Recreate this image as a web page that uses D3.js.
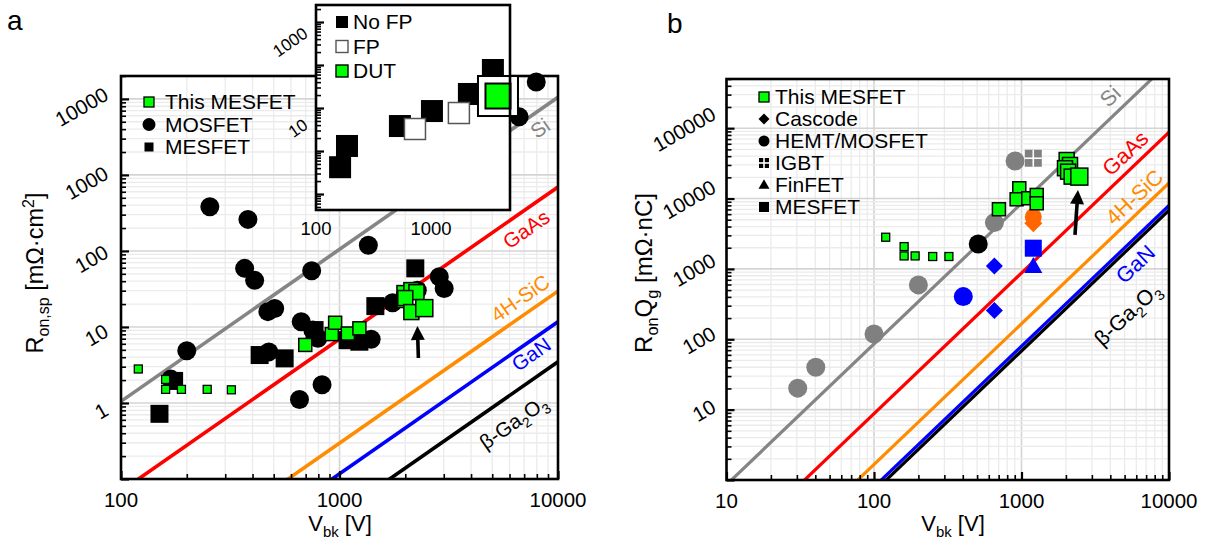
<!DOCTYPE html>
<html>
<head>
<meta charset="utf-8">
<script src="https://cdn.jsdelivr.net/npm/d3@7"></script>
<style>
  body { margin: 0; background: #fff; }
  svg { font-family: "Liberation Sans", Arial, sans-serif; }
</style>
</head>
<body>
<svg id="chart" width="1213" height="542"></svg>
<script>
// ---------- DATA: panel a (Ron,sp vs Vbk) ----------
const THIS_SMALL_A = [[120, 2.8], [160, 2.04], [160, 1.51], [189, 1.51], [248, 1.51], [320, 1.49]];
const THIS_BIG_A = [[697, 5.8], [922, 8.05], [955, 11.35], [1092, 8.2], [1233, 9.6]];
const THIS_CLUSTER_A = [[1983, 22.6], [1983, 27.9], [2133, 30.5], [2250, 28.7], [2000, 24], [2133, 15.7]];
const THIS_BEST_A = [[2444, 17.7]];
const MOSFET_A = [[255, 381], [381, 260], [368, 59], [409, 41], [746, 55], [1355, 119], [505, 17.5],
  [470, 15.9], [200, 4.86], [169, 2.06], [668, 11.7], [755, 9.1], [796, 7.1], [475, 4.7], [832, 1.74],
  [656, 1.11], [1396, 6.9], [1750, 20.8], [2270, 30.5], [2862, 45.7], [3013, 32], [7950, 16700], [6640, 5800]];
const MESFET_A = [[150, 0.72], [175, 1.95], [431, 4.27], [561, 3.86], [769, 9.1], [1089, 6.7], [1233, 6.4],
  [1459, 18.8], [2223, 59]];
const ARROW_A = [[2296, 3.9], [2273, 10.3]];

// inset of panel a
const INSET_NOFP = [[162, 0.42], [186, 1.31], [537, 3.81], [1020, 8.5], [2138, 21.2], [3458, 76.5]];
const INSET_FP = [[726, 3.25], [1750, 7.65]];
const INSET_DUT = [[3828, 19]];

// ---------- DATA: panel b (RonQg vs Vbk) ----------
const THIS_SMALL_B = [[120, 2820], [160, 2075], [160, 1530], [190, 1530], [250, 1500], [322, 1500]];
const THIS_BIG_B = [[703, 7050], [966, 14000], [927, 9770], [1112, 10100], [1268, 11250], [1268, 8570]];
const THIS_CLUSTER_B = [[2024, 35300], [2133, 30000], [1972, 27000], [2070, 24100], [2188, 20500]];
const THIS_BEST_B = [[2466, 20500]];
const SI_CIRCLE_B = [[30.4, 20.2], [40.3, 40], [100, 119], [200, 593], [655, 4550], [904, 34200]];
const SI_IGBT_B = [[1202, 37400]];
const BLACK_CIRCLE_B = [[509, 2265]];
const GAN_CIRCLE_B = [[403, 404]];
const GAN_CASCODE_B = [[655, 1104], [655, 256]];
const GAN_MESFET_B = [[1202, 1970]];
const GAN_FINFET_B = [[1202, 1080]];
const SIC_CIRCLE_B = [[1202, 5530]];
const SIC_CASCODE_B = [[1202, 4460]];
const ARROW_B = [[2306, 3040], [2415, 13250]];

// ---------- material limit lines ----------
const MATERIALS = ["Si", "GaAs", "4H-SiC", "GaN", "β-Ga2O3"];
const MAT_COLORS = ["#858585", "#ff0000", "#ff8c00", "#0000ff", "#000000"];
const LIMIT_K_A = [1.05e-4, 6.93e-6, 2.96e-7, 1.17e-7, 3.48e-8];   // Ron,sp = k * V^2
const LIMIT_V0_B = [10.8, 33.8, 77.6, 112, 121];                   // RonQg = (V / V0)^2
const LABEL_AT_A = [[8280, 4140], [7145, 194], [6700, 24], [7530, 4.4], [6240, 0.56]];
const LABEL_AT_B = [[3980, 287000], [5035, 44500], [5800, 10540], [5890, 1178], [5190, 230]];

// ---------- tick labels ----------
const X_TICKS_A = [100, 1000, 10000];
const Y_TICKS_A = [1, 10, 100, 1000, 10000];
const X_TICKS_I = [100, 1000];
const Y_TICKS_I = [10, 1000];
const X_TICKS_B = [10, 100, 1000, 10000];
const Y_TICKS_B = [10, 100, 1000, 10000, 100000];

const LEGEND_A = ["This MESFET", "MOSFET", "MESFET"];
const LEGEND_B = ["This MESFET", "Cascode", "HEMT/MOSFET", "IGBT", "FinFET", "MESFET"];
const LEGEND_I = ["No FP", "FP", "DUT"];

const GREEN = "#00ff00";
const svg = d3.select("#chart");

// SCALES
const xA = d3.scaleLog().domain([100, 10000]).range([121, 558]);
const yA = d3.scaleLog().domain([0.1, 20000]).range([479, 76]);
const xI = d3.scaleLog().domain([100, 4870]).range([316, 510]);
const yI = d3.scaleLog().domain([0.0425, 2485]).range([210, 5]);
const xB = d3.scaleLog().domain([10, 10000]).range([726.5, 1169]);
const yB = d3.scaleLog().domain([1, 500000]).range([480, 79]);

// every k*10^n inside the domain
function decadeValues(domain) {
  const out = [];
  const lo = Math.floor(Math.log10(domain[0])), hi = Math.ceil(Math.log10(domain[1]));
  for (let e = lo; e <= hi; e++) {
    for (let k = 1; k <= 9; k++) {
      const v = k * Math.pow(10, e);
      if (v >= domain[0] * 0.999 && v <= domain[1] * 1.001) out.push(v);
    }
  }
  return out;
}
function isMajor(v) { const l = Math.log10(v); return Math.abs(l - Math.round(l)) < 1e-6; }

function drawGrid(g, x, y) {
  const [x0, x1] = x.range(), [y0, y1] = y.range();
  g.selectAll(null).data(decadeValues(x.domain())).enter().append("line")
    .attr("x1", d => x(d)).attr("x2", d => x(d)).attr("y1", y0).attr("y2", y1)
    .attr("stroke", d => isMajor(d) ? "#d4d4d4" : "#ebebeb")
    .attr("stroke-width", d => isMajor(d) ? 1.6 : 1.3);
  g.selectAll(null).data(decadeValues(y.domain())).enter().append("line")
    .attr("y1", d => y(d)).attr("y2", d => y(d)).attr("x1", x0).attr("x2", x1)
    .attr("stroke", d => isMajor(d) ? "#d4d4d4" : "#ebebeb")
    .attr("stroke-width", d => isMajor(d) ? 1.6 : 1.3);
}

function drawTicks(g, x, y, bottom) {
  const left = g.append("g").attr("transform", `translate(${x.range()[0]},0)`)
    .call(d3.axisLeft(y).tickValues(decadeValues(y.domain())).tickSize(-5).tickFormat(""));
  left.select(".domain").remove();
  left.selectAll(".tick line").attr("x2", d => isMajor(d) ? 8 : 5)
    .attr("stroke-width", d => isMajor(d) ? 2.2 : 1.6);
  if (!bottom) return;
  const bot = g.append("g").attr("transform", `translate(0,${y.range()[0]})`)
    .call(d3.axisBottom(x).tickValues(decadeValues(x.domain())).tickSize(-5).tickFormat(""));
  bot.select(".domain").remove();
  bot.selectAll(".tick line").attr("y2", d => isMajor(d) ? -8 : -5)
    .attr("stroke-width", d => isMajor(d) ? 2.2 : 1.6);
}

function drawFrame(g, x, y, fill) {
  const [x0, x1] = x.range(), [y0, y1] = y.range();
  g.append("rect").attr("x", x0).attr("y", y1).attr("width", x1 - x0).attr("height", y0 - y1)
    .attr("fill", fill || "none").attr("stroke", "#000").attr("stroke-width", 2.6);
}

// rotated y labels, right edge of their box kept at a fixed gap from the axis
function yLabels(g, y, ticks, axisX, gap, angle, dyOff, size) {
  const a = angle * Math.PI / 180;
  ticks.forEach(v => {
    const t = g.append("text").text(v).attr("font-size", size)
      .attr("text-anchor", "middle").attr("dy", "0.35em");
    const w = t.node().getComputedTextLength();
    const bw = w * Math.cos(a) + size * 0.72 * Math.sin(a);
    t.attr("transform", `translate(${axisX - gap - bw / 2},${y(v) + dyOff}) rotate(${-angle})`);
  });
}
function xLabels(g, x, ticks, baseY, size) {
  g.selectAll(null).data(ticks).enter().append("text")
    .attr("x", d => x(d)).attr("y", baseY).attr("text-anchor", "middle")
    .attr("font-size", size).text(d => d);
}

// text with sub/superscripts: parts = [[str, 0 | 1 (sub) | -1 (sup)]]
function richText(t, parts, size) {
  let shift = 0;
  parts.forEach(p => {
    const target = p[1] === 1 ? size * 0.27 : p[1] === -1 ? -size * 0.38 : 0;
    t.append("tspan").attr("dy", target - shift)
      .attr("font-size", p[1] ? size * 0.68 : size).text(p[0]);
    shift = target;
  });
  return t;
}
function matParts(name) {
  return name === "β-Ga2O3" ? [["β-Ga", 0], ["2", 1], ["O", 0], ["3", 1]] : [[name, 0]];
}

// MARKERS
function squares(g, data, x, y, s, fill, stroke, sw) {
  g.selectAll(null).data(data).enter().append("rect")
    .attr("x", d => x(d[0]) - s / 2).attr("y", d => y(d[1]) - s / 2)
    .attr("width", s).attr("height", s).attr("fill", fill)
    .attr("stroke", stroke || "none").attr("stroke-width", sw || 0);
}
function circles(g, data, x, y, r, fill) {
  g.selectAll(null).data(data).enter().append("circle")
    .attr("cx", d => x(d[0])).attr("cy", d => y(d[1])).attr("r", r).attr("fill", fill);
}
function diamonds(g, data, x, y, half, fill) {
  g.selectAll(null).data(data).enter().append("path")
    .attr("d", d => { const cx = x(d[0]), cy = y(d[1]);
      return `M${cx},${cy - half}L${cx + half},${cy}L${cx},${cy + half}L${cx - half},${cy}Z`; })
    .attr("fill", fill);
}
function triangles(g, data, x, y, w, fill) {
  const h = w * 0.88;
  g.selectAll(null).data(data).enter().append("path")
    .attr("d", d => { const cx = x(d[0]), cy = y(d[1]);
      return `M${cx},${cy - h * 0.6}L${cx + w / 2},${cy + h * 0.4}L${cx - w / 2},${cy + h * 0.4}Z`; })
    .attr("fill", fill);
}
function igbts(g, data, x, y, s, fill) {
  squares(g, data, x, y, s, fill);
  data.forEach(d => {
    const cx = x(d[0]), cy = y(d[1]);
    g.append("line").attr("x1", cx - s / 2).attr("x2", cx + s / 2).attr("y1", cy).attr("y2", cy)
      .attr("stroke", "#fff").attr("stroke-width", 1.6);
    g.append("line").attr("y1", cy - s / 2).attr("y2", cy + s / 2).attr("x1", cx).attr("x2", cx)
      .attr("stroke", "#fff").attr("stroke-width", 1.6);
  });
}
function arrow(g, pts, x, y) {
  const x0 = x(pts[0][0]), y0 = y(pts[0][1]), x1 = x(pts[1][0]), y1 = y(pts[1][1]);
  const ang = Math.atan2(y1 - y0, x1 - x0), hl = 14, hw = 7;
  const bx = x1 - hl * Math.cos(ang), by = y1 - hl * Math.sin(ang);
  g.append("line").attr("x1", x0).attr("y1", y0).attr("x2", bx).attr("y2", by)
    .attr("stroke", "#000").attr("stroke-width", 3.6);
  g.append("path").attr("fill", "#000")
    .attr("d", `M${x1},${y1}L${bx + hw * Math.sin(ang)},${by - hw * Math.cos(ang)}` +
               `L${bx - hw * Math.sin(ang)},${by + hw * Math.cos(ang)}Z`);
}

// labels are centred on LABEL_AT points
function limitLines(g, x, y, fn, clipId, angle, labelAt, width, fs) {
  const [v0, v1] = [x.domain()[0] / 2, x.domain()[1] * 2];
  const lg = g.append("g").attr("clip-path", `url(#${clipId})`);
  MATERIALS.forEach((m, i) => {
    lg.append("line")
      .attr("x1", x(v0)).attr("y1", y(fn(i, v0)))
      .attr("x2", x(v1)).attr("y2", y(fn(i, v1)))
      .attr("stroke", MAT_COLORS[i]).attr("stroke-width", width);
  });
  MATERIALS.forEach((m, i) => {
    const t = g.append("text").attr("font-size", fs).attr("fill", MAT_COLORS[i])
      .attr("text-anchor", "middle")
      .attr("transform", `translate(${x(labelAt[i][0])},${y(labelAt[i][1])}) rotate(${-angle}) translate(0,${fs * 0.36})`);
    richText(t, matParts(m), fs);
  });
}
function clip(id, x, y) {
  svg.append("defs").append("clipPath").attr("id", id).append("rect")
    .attr("x", x.range()[0]).attr("y", y.range()[1])
    .attr("width", x.range()[1] - x.range()[0]).attr("height", y.range()[0] - y.range()[1]);
}

// ================= PANEL A =================
const gA = svg.append("g");
clip("clipA", xA, yA);
drawGrid(gA, xA, yA);
limitLines(gA, xA, yA, (i, v) => LIMIT_K_A[i] * v * v, "clipA", 35, LABEL_AT_A, 3.6, 20.5);

circles(gA, MOSFET_A, xA, yA, 9.5, "#000");
squares(gA, MESFET_A, xA, yA, 18, "#000");
squares(gA, THIS_SMALL_A, xA, yA, 8, GREEN, "#000", 1.3);
squares(gA, THIS_BIG_A, xA, yA, 13, GREEN, "#000", 1.5);
squares(gA, THIS_CLUSTER_A, xA, yA, 15, GREEN, "#000", 1.5);
squares(gA, THIS_BEST_A, xA, yA, 17, GREEN, "#000", 1.5);
arrow(gA, ARROW_A, xA, yA);

drawTicks(gA, xA, yA, true);
drawFrame(gA, xA, yA);
yLabels(gA, yA, Y_TICKS_A, 121, 11, 30, 8, 20.5);
xLabels(gA, xA, X_TICKS_A, 507, 20.5);

// legend a
const legA = gA.append("g");
LEGEND_A.forEach((name, i) => {
  const cy = 102 + i * 22.5;
  if (i === 0) legA.append("rect").attr("x", 144).attr("y", cy - 5).attr("width", 10).attr("height", 10)
    .attr("fill", GREEN).attr("stroke", "#000").attr("stroke-width", 1.3);
  if (i === 1) legA.append("circle").attr("cx", 149).attr("cy", cy).attr("r", 6.5).attr("fill", "#000");
  if (i === 2) legA.append("rect").attr("x", 144.5).attr("y", cy - 4.5).attr("width", 9).attr("height", 9).attr("fill", "#000");
  legA.append("text").attr("x", 165).attr("y", cy).attr("dy", "0.35em").attr("font-size", 21).text(name);
});

// axis titles a
richText(gA.append("text").attr("text-anchor", "middle")
  .attr("transform", "translate(43,273) rotate(-90)"),
  [["R", 0], ["on,sp", 1], [" [mΩ·cm", 0], ["2", -1], ["]", 0]], 23.5);
richText(gA.append("text").attr("text-anchor", "middle").attr("x", 340).attr("y", 531),
  [["V", 0], ["bk", 1], ["  [V]", 0]], 22);
gA.append("text").attr("x", 7).attr("y", 30).attr("font-size", 28).text("a");

// ---- inset ----
const gI = svg.append("g");
gI.append("rect").attr("x", 316).attr("y", 5).attr("width", 194).attr("height", 205).attr("fill", "#fff");
squares(gI, INSET_NOFP, xI, yI, 22, "#000");
squares(gI, INSET_FP, xI, yI, 21, "#fff", "#555", 1.5);
squares(gI, INSET_DUT, xI, yI, 40, "#fff", "#000", 2);
squares(gI, INSET_DUT, xI, yI, 25, GREEN, "#000", 2);
drawTicks(gI, xI, yI, false);
drawFrame(gI, xI, yI);
yLabels(gI, yI, Y_TICKS_I, 316, 7, 35, 20, 17);
xLabels(gI, xI, X_TICKS_I, 235, 18.5);
LEGEND_I.forEach((name, i) => {
  const cy = 22 + i * 24.5;
  const fill = i === 0 ? "#000" : i === 1 ? "#fff" : GREEN;
  gI.append("rect").attr("x", 336).attr("y", cy - 6).attr("width", 12).attr("height", 12)
    .attr("fill", fill).attr("stroke", i === 1 ? "#555" : "#000").attr("stroke-width", i === 0 ? 0 : 1.4);
  gI.append("text").attr("x", 353).attr("y", cy).attr("dy", "0.35em").attr("font-size", 21).text(name);
});

// ================= PANEL B =================
const gB = svg.append("g");
clip("clipB", xB, yB);
drawGrid(gB, xB, yB);
limitLines(gB, xB, yB, (i, v) => Math.pow(v / LIMIT_V0_B[i], 2), "clipB", 43, LABEL_AT_B, 3.2, 21.5);

circles(gB, SI_CIRCLE_B, xB, yB, 9.5, "#808080");
igbts(gB, SI_IGBT_B, xB, yB, 17, "#808080");
circles(gB, BLACK_CIRCLE_B, xB, yB, 9.5, "#000");
circles(gB, GAN_CIRCLE_B, xB, yB, 9.5, "#0000ff");
diamonds(gB, GAN_CASCODE_B, xB, yB, 8.5, "#0000ff");
triangles(gB, GAN_FINFET_B, xB, yB, 18, "#0000ff");
squares(gB, GAN_MESFET_B, xB, yB, 17, "#0000ff");
diamonds(gB, SIC_CASCODE_B, xB, yB, 9, "#ff6600");
circles(gB, SIC_CIRCLE_B, xB, yB, 8.5, "#ff6600");
squares(gB, THIS_SMALL_B, xB, yB, 8, GREEN, "#000", 1.3);
squares(gB, THIS_BIG_B, xB, yB, 13, GREEN, "#000", 1.5);
squares(gB, THIS_CLUSTER_B, xB, yB, 15, GREEN, "#000", 1.5);
squares(gB, THIS_BEST_B, xB, yB, 17, GREEN, "#000", 1.5);
arrow(gB, ARROW_B, xB, yB);

drawTicks(gB, xB, yB, true);
drawFrame(gB, xB, yB);
yLabels(gB, yB, Y_TICKS_B, 726.5, 9, 30, 1, 20.5);
xLabels(gB, xB, X_TICKS_B, 508, 20.5);

// legend b
LEGEND_B.forEach((name, i) => {
  const cy = 97 + i * 22, cx = 764;
  const pt = [[0, 0]], fx = () => cx, fy = () => cy;
  if (i === 0) squares(gB, pt, fx, fy, 10, GREEN, "#000", 1.3);
  if (i === 1) diamonds(gB, pt, fx, fy, 5.5, "#000");
  if (i === 2) circles(gB, pt, fx, fy, 5.5, "#000");
  if (i === 3) igbts(gB, pt, fx, fy, 10, "#000");
  if (i === 4) triangles(gB, pt, fx, fy, 11, "#000");
  if (i === 5) squares(gB, pt, fx, fy, 10, "#000");
  gB.append("text").attr("x", 775).attr("y", cy).attr("dy", "0.35em").attr("font-size", 21).text(name);
});

richText(gB.append("text").attr("text-anchor", "middle")
  .attr("transform", "translate(652,273) rotate(-90)"),
  [["R", 0], ["on", 1], ["Q", 0], ["g", 1], [" [mΩ·nC]", 0]], 24);
richText(gB.append("text").attr("text-anchor", "middle").attr("x", 953).attr("y", 531),
  [["V", 0], ["bk", 1], ["  [V]", 0]], 22);
gB.append("text").attr("x", 667).attr("y", 33).attr("font-size", 28).text("b");
</script>
</body>
</html>
